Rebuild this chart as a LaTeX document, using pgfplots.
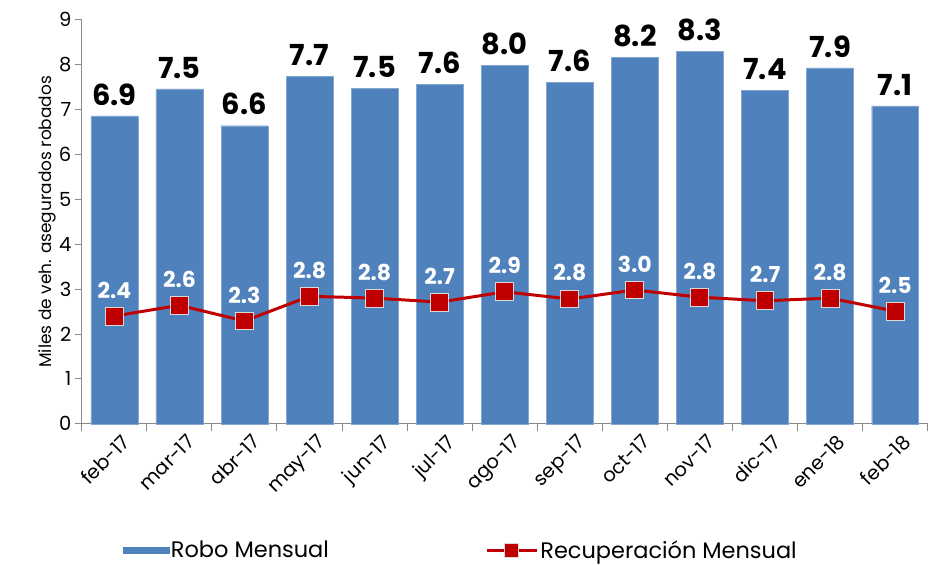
\documentclass[border=0pt]{standalone}
\usepackage{pgfplots}
\pgfplotsset{compat=1.18}
\usepackage{fontspec}
\setmainfont{Poppins}
\definecolor{robo}{HTML}{4F81BD}
\definecolor{recu}{HTML}{C00000}
\definecolor{axgray}{HTML}{898989}

\begin{document}
\begin{tikzpicture}
\begin{axis}[
  width=848pt, height=405pt, scale only axis,
  xmin=-0.5, xmax=12.5, ymin=0, ymax=9,
  ytick={0,1,...,9},
  xtick={-0.5,0.5,...,12.5},
  xticklabels={},
  extra x ticks={0,...,12},
  extra x tick labels={feb-17,mar-17,abr-17,may-17,jun-17,jul-17,ago-17,sep-17,oct-17,nov-17,dic-17,ene-18,feb-18},
  extra x tick style={major tick length=0pt,
    xticklabel style={rotate=45, anchor=north east, inner sep=2pt, yshift=-9pt}},
  axis lines*=left,
  axis line style={axgray, line width=1pt},
  tick align=outside,
  major tick length=7pt,
  every tick/.style={axgray, line width=1pt},
  /pgf/number format/assume math mode=true,
  tick label style={font=\fontsize{19.5}{22}\selectfont, black},
  ylabel={Miles de veh. asegurados robados},
  ylabel style={font=\fontsize{17}{20}\selectfont, yshift=-4pt},
  clip=false,
  legend columns=2,
  legend style={at={(0.448,-0.313)}, anchor=center, draw=none,
    font=\fontsize{22.5}{25}\selectfont,
    /tikz/every even column/.append style={column sep=155pt}},
]
\path (rel axis cs:-0.0967,-0.348) rectangle (rel axis cs:1.0012,1.049);

\addplot[ybar, bar width=47pt, fill=robo, draw=robo!70!white,
  nodes near coords={\pgfmathprintnumber[fixed,fixed zerofill,precision=1]{\pgfplotspointmeta}},
  every node near coord/.append style={font=\fontsize{29}{32}\bfseries\selectfont, black, yshift=7pt},
  legend image code/.code={\fill[robo] (0pt,-0.33em) rectangle (46pt,0.33em);}]
coordinates {(0,6.86)(1,7.46)(2,6.64)(3,7.74)(4,7.48)(5,7.56)(6,7.98)(7,7.6)(8,8.17)(9,8.3)(10,7.43)(11,7.93)(12,7.08)};
\addlegendentry{Robo Mensual}

\addplot[recu, line width=3pt, mark=square*,
  mark options={fill=recu, draw=black!15, line width=1pt},
  mark size=9pt,
  nodes near coords={\pgfmathprintnumber[fixed,fixed zerofill,precision=1]{\pgfplotspointmeta}},
  every node near coord/.append style={font=\fontsize{22}{25}\bfseries\selectfont, white, yshift=14pt},
  legend image code/.code={\draw[mark repeat=2,mark phase=2, mark size=7pt] plot coordinates {(0pt,0pt) (25pt,0pt) (50pt,0pt)};}]
coordinates {(0,2.40)(1,2.64)(2,2.29)(3,2.84)(4,2.80)(5,2.71)(6,2.94)(7,2.78)(8,2.98)(9,2.82)(10,2.74)(11,2.80)(12,2.51)};
\addlegendentry{Recuperación Mensual}
\end{axis}
\end{tikzpicture}
\end{document}
